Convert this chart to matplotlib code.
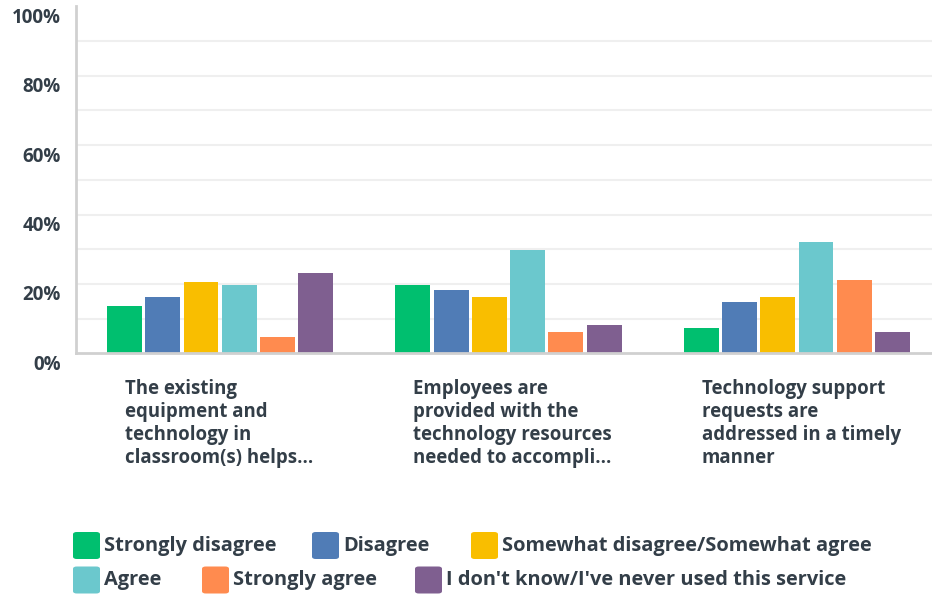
import matplotlib
matplotlib.use("Agg")
import matplotlib.pyplot as plt
from matplotlib.patches import FancyBboxPatch
from matplotlib.transforms import ScaledTranslation, blended_transform_factory
import numpy as np

plt.rcParams['font.family'] = ['Open Sans', 'DejaVu Sans']

categories = [
    "The existing\nequipment and\ntechnology in\nclassroom(s) helps...",
    "Employees are\nprovided with the\ntechnology resources\nneeded to accompli...",
    "Technology support\nrequests are\naddressed in a timely\nmanner",
]
series_names = [
    "Strongly disagree",
    "Disagree",
    "Somewhat disagree/Somewhat agree",
    "Agree",
    "Strongly agree",
    "I don't know/I've never used this service",
]
series_colors = ["#00bf6f", "#507cb6", "#f9be00", "#6bc8cd", "#ff8b4f", "#7f5f90"]
values = [
    [13.6, 19.7, 7.3],
    [16.2, 18.2, 14.8],
    [20.5, 16.2, 16.2],
    [19.7, 29.8, 32.1],
    [4.7, 6.1, 21.1],
    [23.1, 8.2, 6.1],
]
ytick_values = [0, 20, 40, 60, 80, 100]
ytick_labels = ["0%", "20%", "40%", "60%", "80%", "100%"]

W, H = 932, 594
TEXT = "#333e48"
fig = plt.figure(figsize=(W / 100, H / 100), dpi=100)


def fx(px):
    return px / W


def fy(py):
    return 1 - py / H


ax = fig.add_axes([fx(76), fy(353.3), (941 - 76) / W, (353.3 - 6.3) / H])
ax.set_xlim(-0.5, len(categories) - 0.5)
ax.set_ylim(0, 100)

pitch = 0.1328
width = 0.121
x = np.arange(len(categories))
for k, (name, col, vals) in enumerate(zip(series_names, series_colors, values)):
    ax.bar(x + (k - 2.5) * pitch, vals, width=width, color=col, zorder=3)

# horizontal guides
for g in range(10, 100, 10):
    ax.axhline(g, color="#efefef", lw=1.5, zorder=1)

for s in ["top", "right"]:
    ax.spines[s].set_visible(False)
for s in ["left", "bottom"]:
    ax.spines[s].set_color("#d0d0d0")
    ax.spines[s].set_linewidth(2)
ax.spines["bottom"].set_zorder(4)

ax.set_xticks([])
ax.set_yticks(ytick_values)
ax.set_yticklabels(ytick_labels, fontsize=13.5, fontweight="bold", color=TEXT)
ax.tick_params(axis="y", length=0, pad=11)
for lab in ax.get_yticklabels():
    lab.set_transform(lab.get_transform() + ScaledTranslation(0, -9 / 100, fig.dpi_scale_trans))

# category labels under each group
bt = blended_transform_factory(ax.transData, fig.transFigure)
for i, cat in enumerate(categories):
    ax.text(i - 0.33, fy(379), cat, transform=bt, ha="left", va="top",
            fontsize=13.4, fontweight="bold", color=TEXT, linespacing=1.2)

# legend
legend_pos = [
    (73, 545.5), (312, 545.5), (471, 545.5),
    (73, 580), (202, 580), (415, 580),
]
sq = 27
for (px, py), name, col in zip(legend_pos, series_names, series_colors):
    p = FancyBboxPatch((fx(px), fy(py + sq / 2)), sq / W, sq / H,
                       boxstyle="round,pad=0,rounding_size=0.004",
                       transform=fig.transFigure, facecolor=col, edgecolor="none")
    fig.patches.append(p)
    fig.text(fx(px + sq + 4), fy(py), name, ha="left", va="center",
             fontsize=14.4, fontweight="bold", color=TEXT)

fig.savefig("out.png", dpi=100)
